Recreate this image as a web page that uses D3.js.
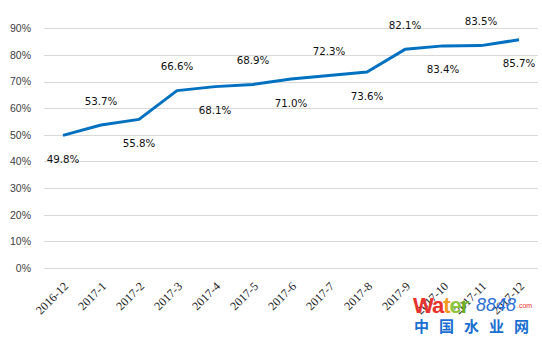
<!DOCTYPE html>
<html><head><meta charset="utf-8">
<script src="https://cdn.jsdelivr.net/npm/d3@7"></script>
<style>body{margin:0;background:#fff}svg{display:block}</style>
</head><body>
<script>
const categories = ["2016-12","2017-1","2017-2","2017-3","2017-4","2017-5","2017-6","2017-7","2017-8","2017-9","2017-10","2017-11","2017-12"];
const values = [49.8,53.7,55.8,66.6,68.1,68.9,71.0,72.3,73.6,82.1,83.4,83.5,85.7];
const labelSide = ["below","above","below","above","below","above","below","above","below","above","below","above","below"];
const yTicks = [0,10,20,30,40,50,60,70,80,90];

const W=542,H=342;
const svg=d3.select("body").append("svg").attr("width",W).attr("height",H);
const x=d3.scaleBand().domain(categories).range([44,538]);
const y=d3.scaleLinear().domain([0,90]).range([268,28.3]);

// gridlines
svg.append("g").selectAll("line").data(yTicks).join("line")
  .attr("x1",44).attr("x2",538).attr("y1",d=>Math.round(y(d))+0.5).attr("y2",d=>Math.round(y(d))+0.5)
  .attr("stroke","#d9d9d9").attr("stroke-width",1);

// y axis labels
const ya=svg.append("g").attr("transform","translate(31,0)")
  .call(d3.axisLeft(y).tickValues(yTicks).tickSize(0).tickPadding(0).tickFormat(d=>d+"%"));
ya.select(".domain").remove();
ya.selectAll("text").attr("font-family","Liberation Sans, Arial, sans-serif").attr("font-size","10.5px").attr("fill","#404040");

// x axis labels
const xa=svg.append("g").attr("transform","translate(0,284)")
  .call(d3.axisBottom(x).tickSize(0).tickPadding(0));
xa.select(".domain").remove();
xa.selectAll("text").attr("font-family","Liberation Serif, Times New Roman, serif").attr("font-size","12px").attr("fill","#222")
  .attr("text-anchor","end").attr("dy","0.35em").attr("transform","translate(3,0) rotate(-45)");

// line
const cx=d=>x(d)+x.bandwidth()/2;
svg.append("path").datum(values.map((v,i)=>[categories[i],v]))
  .attr("fill","none").attr("stroke","#0070C0").attr("stroke-width",3).attr("stroke-linejoin","round")
  .attr("d",d3.line().x(d=>cx(d[0])).y(d=>y(d[1])));

// data labels
svg.append("g").selectAll("text").data(values).join("text")
  .attr("x",(d,i)=>cx(categories[i]))
  .attr("y",(d,i)=>y(d)+(labelSide[i]==="above"?-24:24))
  .attr("dy","0.35em").attr("text-anchor","middle")
  .attr("font-family","DejaVu Sans, sans-serif").attr("font-size","10.3px").attr("fill","#111")
  .text(d=>d.toFixed(1)+"%");

// watermark
const wm=svg.append("g");
const wt=wm.append("text").attr("x",413).attr("y",313).attr("font-family","Liberation Sans, Arial, sans-serif")
  .attr("font-weight","bold").attr("font-size","22px").attr("letter-spacing","-1px");
[["W","#e8322d"],["a","#e8322d"],["t","#f39a1e"],["e","#8cc63f"],["r","#6ab023"]].forEach(([c,col])=>wt.append("tspan").attr("fill",col).text(c));
wm.append("text").attr("x",476).attr("y",311).attr("font-family","Liberation Sans, Arial, sans-serif")
  .attr("font-style","italic").attr("font-size","18px").attr("fill","#2a6fd6").text("8848");
wm.append("text").attr("x",517).attr("y",308).attr("font-family","Liberation Sans, Arial, sans-serif")
  .attr("font-size","7px").attr("fill","#e8322d").text(".com");
wm.append("text").attr("x",414).attr("y",332).attr("font-family","Noto Sans CJK SC, sans-serif")
  .attr("font-weight","bold").attr("font-size","15px").attr("letter-spacing","10px").attr("fill","#1a6fd0").text("中国水业网");
</script>
</body></html>
